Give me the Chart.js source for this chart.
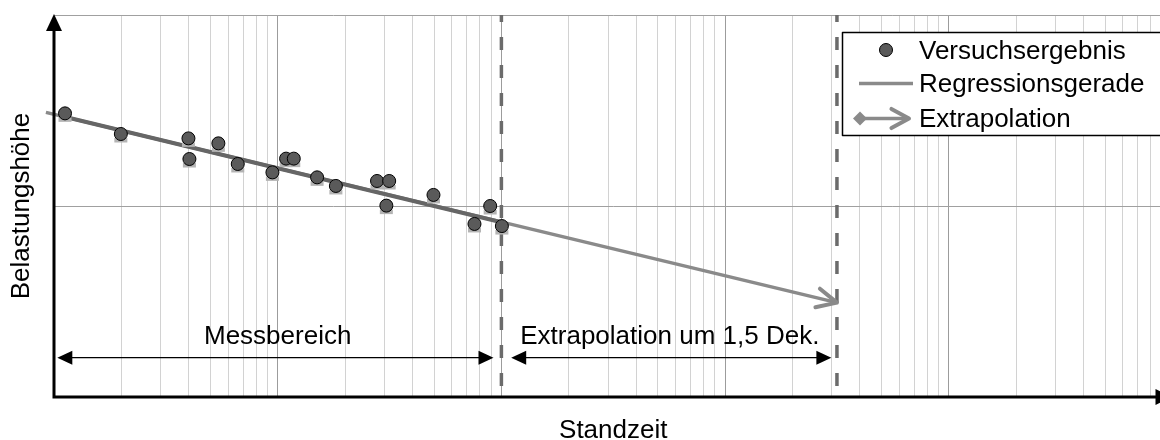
<!DOCTYPE html>
<html>
<head>
<meta charset="utf-8">
<script src="https://cdn.jsdelivr.net/npm/chart.js@4.4.0/dist/chart.umd.min.js"></script>
<style>
html, body { margin: 0; padding: 0; background: #fff; overflow: hidden; }
#wrap { width: 1180px; height: 440px; }
</style>
</head>
<body>
<div id="wrap"><canvas id="chart" width="1180" height="440"></canvas></div>
<script>
// test results (Standzeit, Belastungshoehe)
var pointX = [1.12, 1.99, 3.99, 4.03, 5.43, 6.63, 9.47, 10.9, 11.8, 15.0, 18.2, 27.8, 31.5, 30.6, 49.7, 89.1, 75.8, 100.5];
var pointY = [1.485, 1.377, 1.354, 1.246, 1.328, 1.220, 1.176, 1.248, 1.248, 1.150, 1.105, 1.131, 1.131, 1.002, 1.058, 1.000, 0.906, 0.895];

var regressionX = [1.09, 100];
var regressionY = [1.47, 0.915];
var extrapolationX = [0.92, 3162];
var extrapolationY = [1.49, 0.494];

var markerLinesX = [100, 3162.3];

var rangeArrows = [[1.035, 92.2], [110.6, 2985]];
var rangeArrowY = 0.206;
var rangeLabels = ['Messbereich', 'Extrapolation um 1,5 Dek.'];
var rangeLabelX = [10, 566];
var rangeLabelY = 0.277;

var seriesNames = ['Versuchsergebnis', 'Regressionsgerade', 'Extrapolation'];
var xTitle = 'Standzeit';
var yTitle = 'Belastungshöhe';

var xMin = 1, xMax = 100000;
var yMin = 0, yMax = 2, yStep = 1;

var FONT = "26px 'Liberation Sans', Arial, sans-serif";

// log grid: 1..9 in every decade
var logTicks = [];
for (let d = xMin; d < xMax; d *= 10) {
    for (let m = 1; m < 10; m++) {
        logTicks.push(d * m);
    }
}
logTicks.push(xMax);

function toPoints(xs, ys) {
    let out = [];
    for (let i = 0; i < xs.length; i++) {
        out.push({ x: xs[i], y: ys[i] });
    }
    return out;
}

function filledHead(ctx, x, y, dir) {
    // dir: 1 points right, -1 points left
    ctx.beginPath();
    ctx.moveTo(x, y);
    ctx.lineTo(x - dir * 15, y - 7);
    ctx.lineTo(x - dir * 15, y + 7);
    ctx.closePath();
    ctx.fill();
}

function chevron(ctx, x, y, angle, len, spread) {
    ctx.beginPath();
    ctx.moveTo(x + len * Math.cos(angle + spread), y + len * Math.sin(angle + spread));
    ctx.lineTo(x, y);
    ctx.lineTo(x + len * Math.cos(angle - spread), y + len * Math.sin(angle - spread));
    ctx.stroke();
}

var decorPlugin = {
    id: 'decor',
    beforeDatasetDraw: function (chart, args) {
        if (args.index != 0) return;
        // light bar under every test point
        let ctx = chart.ctx;
        ctx.save();
        ctx.fillStyle = '#b4b4b4';
        let meta = chart.getDatasetMeta(0);
        for (let i = 0; i < meta.data.length; i++) {
            let p = meta.data[i];
            ctx.fillRect(p.x - 6.5, p.y + 4, 13, 4.5);
        }
        ctx.restore();
    },
    afterDatasetsDraw: function (chart) {
        let ctx = chart.ctx;
        let xs = chart.scales.x;
        let ys = chart.scales.y;
        let area = chart.chartArea;
        ctx.save();

        // arrow head at the end of the extrapolation
        let em = chart.getDatasetMeta(2).data;
        let a = em[em.length - 2], b = em[em.length - 1];
        let back = Math.atan2(a.y - b.y, a.x - b.x);
        ctx.strokeStyle = '#8a8a8a';
        ctx.lineWidth = 4;
        ctx.lineCap = 'round';
        ctx.lineJoin = 'round';
        chevron(ctx, b.x, b.y, back, 22, 0.45);

        // range arrows
        ctx.strokeStyle = '#000';
        ctx.fillStyle = '#000';
        ctx.lineWidth = 1.3;
        ctx.lineCap = 'butt';
        let ay = ys.getPixelForValue(rangeArrowY);
        for (let r = 0; r < rangeArrows.length; r++) {
            let x1 = xs.getPixelForValue(rangeArrows[r][0]);
            let x2 = xs.getPixelForValue(rangeArrows[r][1]);
            ctx.beginPath();
            ctx.moveTo(x1 + 10, ay);
            ctx.lineTo(x2 - 10, ay);
            ctx.stroke();
            filledHead(ctx, x1, ay, -1);
            filledHead(ctx, x2, ay, 1);
        }

        ctx.font = FONT;
        ctx.textAlign = 'center';
        ctx.textBaseline = 'alphabetic';
        let ly = ys.getPixelForValue(rangeLabelY);
        for (let r = 0; r < rangeLabels.length; r++) {
            ctx.fillText(rangeLabels[r], xs.getPixelForValue(rangeLabelX[r]), ly);
        }

        // axes with arrows
        ctx.lineWidth = 3;
        ctx.beginPath();
        ctx.moveTo(area.left, area.bottom);
        ctx.lineTo(area.left, area.top + 14);
        ctx.moveTo(area.left - 1.5, area.bottom);
        ctx.lineTo(area.right - 14, area.bottom);
        ctx.stroke();
        ctx.beginPath();
        ctx.moveTo(area.left, area.top - 1);
        ctx.lineTo(area.left - 8, area.top + 16);
        ctx.lineTo(area.left + 8, area.top + 16);
        ctx.closePath();
        ctx.fill();
        ctx.beginPath();
        ctx.moveTo(area.right - 1, area.bottom);
        ctx.lineTo(area.right - 17, area.bottom - 8);
        ctx.lineTo(area.right - 17, area.bottom + 8);
        ctx.closePath();
        ctx.fill();

        // axis titles
        ctx.textBaseline = 'middle';
        ctx.fillText(xTitle, (area.left + area.right) / 2, 431);
        ctx.save();
        ctx.translate(22, (area.top + area.bottom) / 2);
        ctx.rotate(-Math.PI / 2);
        ctx.fillText(yTitle, 0, 0);
        ctx.restore();

        // legend box
        ctx.fillStyle = '#fff';
        ctx.fillRect(842, 32, 340, 103);
        ctx.strokeStyle = '#000';
        ctx.lineWidth = 1.5;
        ctx.strokeRect(842.5, 32.5, 340, 103);

        ctx.fillStyle = '#5a5a5a';
        ctx.lineWidth = 1;
        ctx.beginPath();
        ctx.arc(886, 50, 6.5, 0, Math.PI * 2);
        ctx.fill();
        ctx.stroke();

        ctx.strokeStyle = '#8a8a8a';
        ctx.lineWidth = 3.5;
        ctx.beginPath();
        ctx.moveTo(859, 83.5);
        ctx.lineTo(913, 83.5);
        ctx.stroke();

        ctx.beginPath();
        ctx.moveTo(860, 118.5);
        ctx.lineTo(907, 118.5);
        ctx.stroke();
        ctx.lineWidth = 4;
        ctx.lineCap = 'round';
        ctx.lineJoin = 'round';
        chevron(ctx, 909, 118.5, Math.PI, 20, 0.5);
        ctx.fillStyle = '#8a8a8a';
        ctx.beginPath();
        ctx.moveTo(853, 118.5);
        ctx.lineTo(860, 111.5);
        ctx.lineTo(867, 118.5);
        ctx.lineTo(860, 125.5);
        ctx.closePath();
        ctx.fill();

        ctx.fillStyle = '#000';
        ctx.textAlign = 'left';
        ctx.textBaseline = 'alphabetic';
        let base = [58.5, 92, 127];
        for (let i = 0; i < seriesNames.length; i++) {
            ctx.fillText(seriesNames[i], 919, base[i]);
        }
        ctx.restore();
    }
};

var datasets = [
    {
        label: seriesNames[0],
        data: toPoints(pointX, pointY),
        pointRadius: 6.5,
        pointHoverRadius: 6.5,
        pointBackgroundColor: '#5a5a5a',
        pointBorderColor: '#000',
        pointBorderWidth: 1,
        showLine: false,
        order: 1
    },
    {
        label: seriesNames[1],
        data: toPoints(regressionX, regressionY),
        showLine: true,
        borderColor: '#666666',
        borderWidth: 4,
        pointRadius: 0,
        order: 2
    },
    {
        label: seriesNames[2],
        data: toPoints(extrapolationX, extrapolationY),
        showLine: true,
        borderColor: '#8a8a8a',
        borderWidth: 3.5,
        pointRadius: 0,
        clip: false,
        order: 3
    }
];

for (let m = 0; m < markerLinesX.length; m++) {
    datasets.push({
        label: 'marker' + m,
        data: [{ x: markerLinesX[m], y: yMax }, { x: markerLinesX[m], y: yMin }],
        showLine: true,
        borderColor: '#6b6b6b',
        borderWidth: 3.5,
        borderDash: [13, 15],
        borderDashOffset: 6,
        pointRadius: 0,
        order: 4
    });
}

var chart = new Chart(document.getElementById('chart'), {
    type: 'scatter',
    data: { datasets: datasets },
    options: {
        responsive: false,
        animation: false,
        devicePixelRatio: 1,
        layout: { padding: { left: 54, top: 15, right: 6, bottom: 43 } },
        scales: {
            x: {
                type: 'logarithmic',
                min: xMin,
                max: xMax,
                afterBuildTicks: function (scale) {
                    scale.ticks = logTicks.map(v => ({ value: v }));
                },
                ticks: { display: false },
                border: { display: false },
                grid: {
                    drawTicks: false,
                    lineWidth: 1,
                    color: function (c) {
                        let v = c.tick ? c.tick.value : 0;
                        let l = Math.log10(v);
                        return Math.abs(l - Math.round(l)) < 1e-6 ? '#9c9c9c' : '#d2d2d2';
                    }
                }
            },
            y: {
                type: 'linear',
                min: yMin,
                max: yMax,
                ticks: { display: false, stepSize: yStep },
                border: { display: false },
                grid: { drawTicks: false, color: '#a0a0a0', lineWidth: 1 }
            }
        },
        plugins: {
            legend: { display: false },
            tooltip: { enabled: false }
        }
    },
    plugins: [decorPlugin]
});
</script>
</body>
</html>
